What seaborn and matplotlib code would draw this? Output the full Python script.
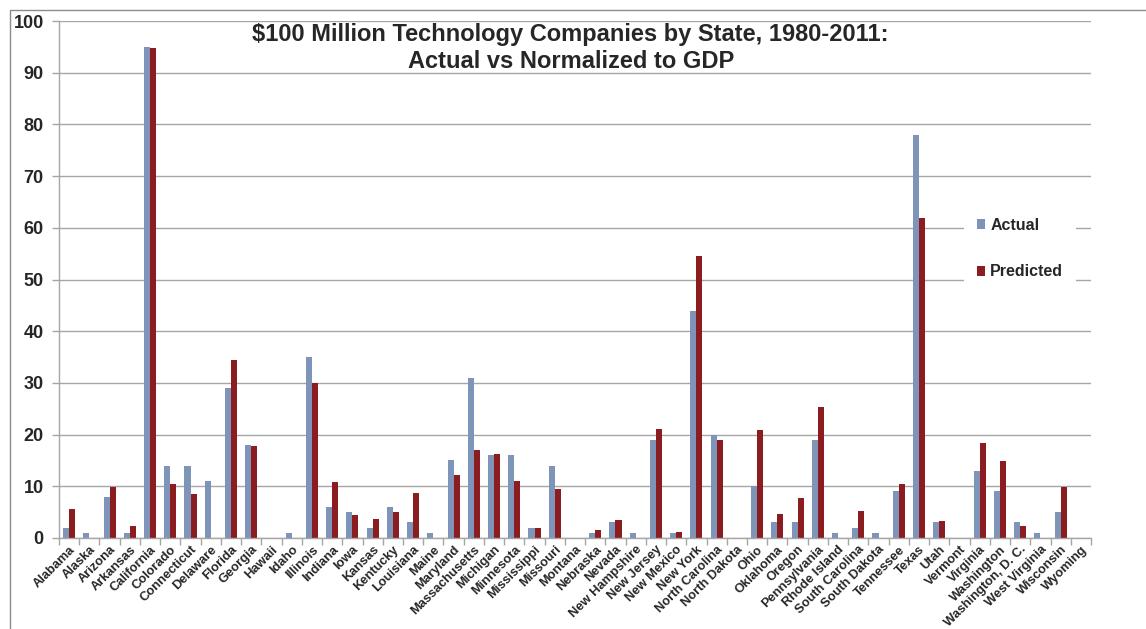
import pandas as pd
import seaborn as sns
import matplotlib.pyplot as plt
from matplotlib.patches import Rectangle
from matplotlib.ticker import MultipleLocator

# data
states = ['Alabama', 'Alaska', 'Arizona', 'Arkansas', 'California', 'Colorado',
          'Connecticut', 'Delaware', 'Florida', 'Georgia', 'Hawaii', 'Idaho',
          'Illinois', 'Indiana', 'Iowa', 'Kansas', 'Kentucky', 'Louisiana', 'Maine',
          'Maryland', 'Massachusetts', 'Michigan', 'Minnesota', 'Mississippi',
          'Missouri', 'Montana', 'Nebraska', 'Nevada', 'New Hampshire', 'New Jersey',
          'New Mexico', 'New York', 'North Carolina', 'North Dakota', 'Ohio',
          'Oklahoma', 'Oregon', 'Pennsylvania', 'Rhode Island', 'South Carolina',
          'South Dakota', 'Tennessee', 'Texas', 'Utah', 'Vermont', 'Virginia',
          'Washington', 'Washington, D. C.', 'West Virginia', 'Wisconsin', 'Wyoming']
actual = [2, 1, 8, 1, 95, 14, 14, 11, 29, 18, 0, 1, 35, 6, 5, 2, 6, 3, 1, 15, 31, 16,
          16, 2, 14, 0, 1, 3, 1, 19, 1, 44, 20, 0, 10, 3, 3, 19, 1, 2, 1, 9, 78, 3, 0,
          13, 9, 3, 1, 5, 0]
predicted = [5.6, 0, 9.9, 2.3, 94.8, 10.4, 8.6, 0, 34.4, 17.8, 0, 0, 30.0, 10.8, 4.4,
             3.6, 5.1, 8.8, 0, 12.1, 17.0, 16.2, 11.0, 2.0, 9.4, 0, 1.5, 3.5, 0, 21.1,
             1.2, 54.5, 19.0, 0, 20.8, 4.7, 7.7, 25.4, 0, 5.3, 0, 10.5, 61.9, 3.3, 0,
             18.4, 14.8, 2.4, 0, 9.8, 0]
series = ['Actual', 'Predicted']
colors = ['#7F94B9', '#8B1C1F']

df = pd.DataFrame({'state': states * 2,
                   'value': actual + predicted,
                   'series': [series[0]] * len(states) + [series[1]] * len(states)})

sns.set_style('white')
plt.rcParams['font.family'] = ['Liberation Sans', 'DejaVu Sans']

fig = plt.figure(figsize=(11.46, 6.29), dpi=100)
ax = fig.add_axes([59 / 1146, 91 / 629, 1032 / 1146, 517 / 629])

sns.barplot(data=df, x='state', y='value', hue='series', palette=colors,
            width=0.6, saturation=1, linewidth=0, ax=ax, legend=True)

ax.set_xlim(-0.5, len(states) - 0.5)
ax.set_ylim(0, 100)
ax.yaxis.set_major_locator(MultipleLocator(10))
ax.yaxis.grid(True, color='#A6A6A6', linewidth=1)
ax.set_axisbelow(True)
ax.set_xlabel('')
ax.set_ylabel('')

for s in ['top', 'right']:
    ax.spines[s].set_visible(False)
for s in ['left', 'bottom']:
    ax.spines[s].set_color('#A6A6A6')
    ax.spines[s].set_linewidth(1)

# category labels at centres, tick marks at category boundaries
ax.set_xticks(range(len(states)))
ax.set_xticklabels(states, rotation=45, ha='right', rotation_mode='anchor',
                   fontsize=9.3, fontweight='bold')
ax.tick_params(axis='x', which='major', length=0, pad=4)
ax.set_xticks([i - 0.5 for i in range(len(states) + 1)], minor=True)
ax.tick_params(axis='x', which='minor', length=5, color='#A6A6A6', width=1,
               direction='out', bottom=True)
ax.tick_params(axis='y', length=5, color='#A6A6A6', width=1, direction='out',
               left=True, labelsize=13, pad=6)
for lbl in ax.get_yticklabels():
    lbl.set_fontweight('bold')

leg = ax.legend(loc='upper left', bbox_to_anchor=(0.869, 0.66), frameon=True,
                facecolor='white', edgecolor='none', framealpha=1, fancybox=False,
                handlelength=0.55, handleheight=0.55, handletextpad=0.3,
                labelspacing=2.0, borderpad=0.8,
                prop={'weight': 'bold', 'size': 11.5})

fig.text(0.498, 0.945, r'\$100 Million Technology Companies by State, 1980-2011:',
         ha='center', va='center', fontsize=17, fontweight='bold')
fig.text(0.498, 0.902, 'Actual vs Normalized to GDP',
         ha='center', va='center', fontsize=17, fontweight='bold')

# outer chart border, clipped on right and bottom like the reference
fig.patches.append(Rectangle((10 / 1146, -0.1), 1.2, (619 / 629) + 0.1,
                             transform=fig.transFigure, fill=False,
                             edgecolor='#8C8C8C', linewidth=1))

fig.savefig('out.png', dpi=100)
plt.close()
